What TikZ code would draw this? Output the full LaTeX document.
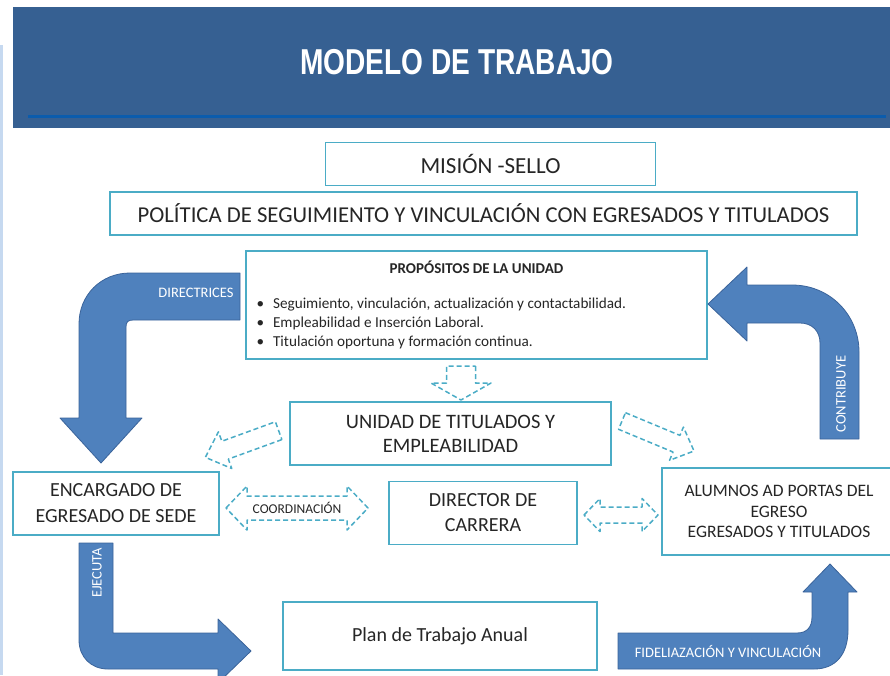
\documentclass[tikz,border=0pt]{standalone}
\usepackage{fontspec}
\setmainfont{Carlito}
\newfontfamily\titlefont[FakeStretch=0.78]{Liberation Sans}
\definecolor{header}{HTML}{366092}
\definecolor{headline}{HTML}{0B5CAD}
\definecolor{frame}{HTML}{4BACC6}
\definecolor{bigfill}{HTML}{4F81BD}
\definecolor{bigline}{HTML}{3A639A}
\definecolor{ink}{HTML}{262626}
\definecolor{strip}{HTML}{C6D9F0}
\tikzset{
  dashline/.style={draw=frame,line width=1.5pt,dash pattern=on 5pt off 3pt,line join=round},
  % flecha de bloque: largo/eje/cabeza/punta
  pics/flecha/.style args={#1/#2/#3/#4}{code={
    \draw[dashline] (-#1/2,-#2/2) -- (#1/2-#4,-#2/2) -- (#1/2-#4,-#3/2) -- (#1/2,0) -- (#1/2-#4,#3/2)
      -- (#1/2-#4,#2/2) -- (-#1/2,#2/2) -- cycle;}},
  pics/flechados/.style args={#1/#2/#3/#4}{code={
    \draw[dashline] (-#1/2,0) -- (-#1/2+#4,-#3/2) -- (-#1/2+#4,-#2/2) -- (#1/2-#4,-#2/2) -- (#1/2-#4,-#3/2)
      -- (#1/2,0) -- (#1/2-#4,#3/2) -- (#1/2-#4,#2/2) -- (-#1/2+#4,#2/2) -- (-#1/2+#4,#3/2) -- cycle;}}
}

\begin{document}
\begin{tikzpicture}[x=1pt,y=-1pt,
box/.style={draw=frame,line width=1.8pt,fill=white,text=ink,align=center,inner sep=0pt},
big/.style={fill=bigfill,draw=bigline,line width=0.8pt,line join=round},
biglabel/.style={text=white,font=\fontsize{14.5}{16}\selectfont,inner sep=0pt}]
\useasboundingbox (0,0) rectangle (890,675);
% encabezado
\fill[strip] (0,45) rectangle (3,675);
\fill[header] (13,7) rectangle (890,128);
\draw[headline,line width=2.5pt] (28,116.5) -- (886,116.5);
\node[text=white,font=\titlefont\bfseries\fontsize{36}{40}\selectfont] (titulo) at (457,62) {MODELO DE TRABAJO};
% cajas
\node[box,minimum width=330,minimum height=43,font=\fontsize{23}{26}\selectfont] (mision) at (490.5,164) {MISIÓN -SELLO};
\node[box,minimum width=747,minimum height=43,font=\fontsize{22.7}{26}\selectfont] (politica) at (483.5,213.5) {POLÍTICA DE SEGUIMIENTO Y VINCULACIÓN CON EGRESADOS Y TITULADOS};
\node[box,minimum width=461,minimum height=108,align=left,font=\fontsize{15.2}{19}\selectfont] (prop) at (476.5,305)
{\makebox[440pt]{\bfseries\fontsize{15}{17}\selectfont PROPÓSITOS DE LA UNIDAD}\\[16pt]
\textbullet\hspace{9pt}Seguimiento, vinculación, actualización y contactabilidad.\\
\textbullet\hspace{9pt}Empleabilidad e Inserción Laboral.\\
\textbullet\hspace{9pt}Titulación oportuna y formación continua.};
\node[box,minimum width=321,minimum height=63,font=\fontsize{20.5}{24}\selectfont] (unidad) at (450.5,433.5) {UNIDAD DE TITULADOS Y\\EMPLEABILIDAD};
\node[box,minimum width=206,minimum height=63,font=\fontsize{20}{26}\selectfont] (encargado) at (116,503.5) {ENCARGADO DE\\EGRESADO DE SEDE};
\node[box,minimum width=188,minimum height=63,font=\fontsize{20}{25}\selectfont] (director) at (483,513) {DIRECTOR DE\\CARRERA};
\node[box,minimum width=234,minimum height=87,font=\fontsize{17.5}{20.5}\selectfont] (alumnos) at (779,511.5) {ALUMNOS AD PORTAS DEL\\EGRESO\\EGRESADOS Y TITULADOS};
\node[box,minimum width=314,minimum height=68,font=\fontsize{20}{22}\selectfont] (plan) at (440,636) {Plan de Trabajo Anual};
% flechas grandes
\draw[big] (240,273) -- (130,273) .. controls (101,273) and (79,295) .. (79,324) -- (79,418) -- (60,418) -- (101,463)
  -- (142,418) -- (126,418) -- (126,327) .. controls (126,322) and (128,320) .. (133,320) -- (240,320) -- cycle;
\node[biglabel] (directrices) at (196,293) {DIRECTRICES};
\draw[big] (820,439) -- (820,343) .. controls (820,331) and (812,323) .. (800,323) -- (747,323) -- (747,341) -- (708,304)
  -- (747,267) -- (747,285) -- (792,285) .. controls (830,285) and (859,315) .. (859,352) -- (859,439) -- cycle;
\node[biglabel,rotate=90] (contribuye) at (841,394) {CONTRIBUYE};
\draw[big] (79,543) -- (113,543) -- (113,633) -- (218,633) -- (218,619) -- (251,651) -- (218,683) -- (218,669)
  -- (108,669) .. controls (91,669) and (79,657) .. (79,640) -- cycle;
\node[biglabel,rotate=90] (ejecuta) at (97,573) {EJECUTA};
\draw[big] (618,633) -- (797,633) .. controls (807,633) and (812,627) .. (812,617) -- (812,592) -- (803,592) -- (830,564)
  -- (857,592) -- (848,592) -- (848,630) .. controls (848,654) and (836,669) .. (814,669) -- (618,669) -- cycle;
\node[biglabel] (fideliza) at (728,651) {FIDELIAZACIÓN Y VINCULACIÓN};
% flechas punteadas
\pic[rotate=-90] (baja) at (461,383) {flecha=34/29/60/17};
\pic[rotate=200] (haciaenc) at (242,444) {flecha=78/19/39/21};
\pic[rotate=-22.6] (haciaalu) at (658,436) {flecha=78/18/36/19};
\pic (coord) at (297,508) {flechados=142/24/44/21};
\node[text=ink,font=\fontsize{13.5}{15}\selectfont] (coordtxt) at (297,508) {COORDINACIÓN};
\pic (enlace) at (621,515) {flechados=74/16/33/16};
\end{tikzpicture}
\end{document}
